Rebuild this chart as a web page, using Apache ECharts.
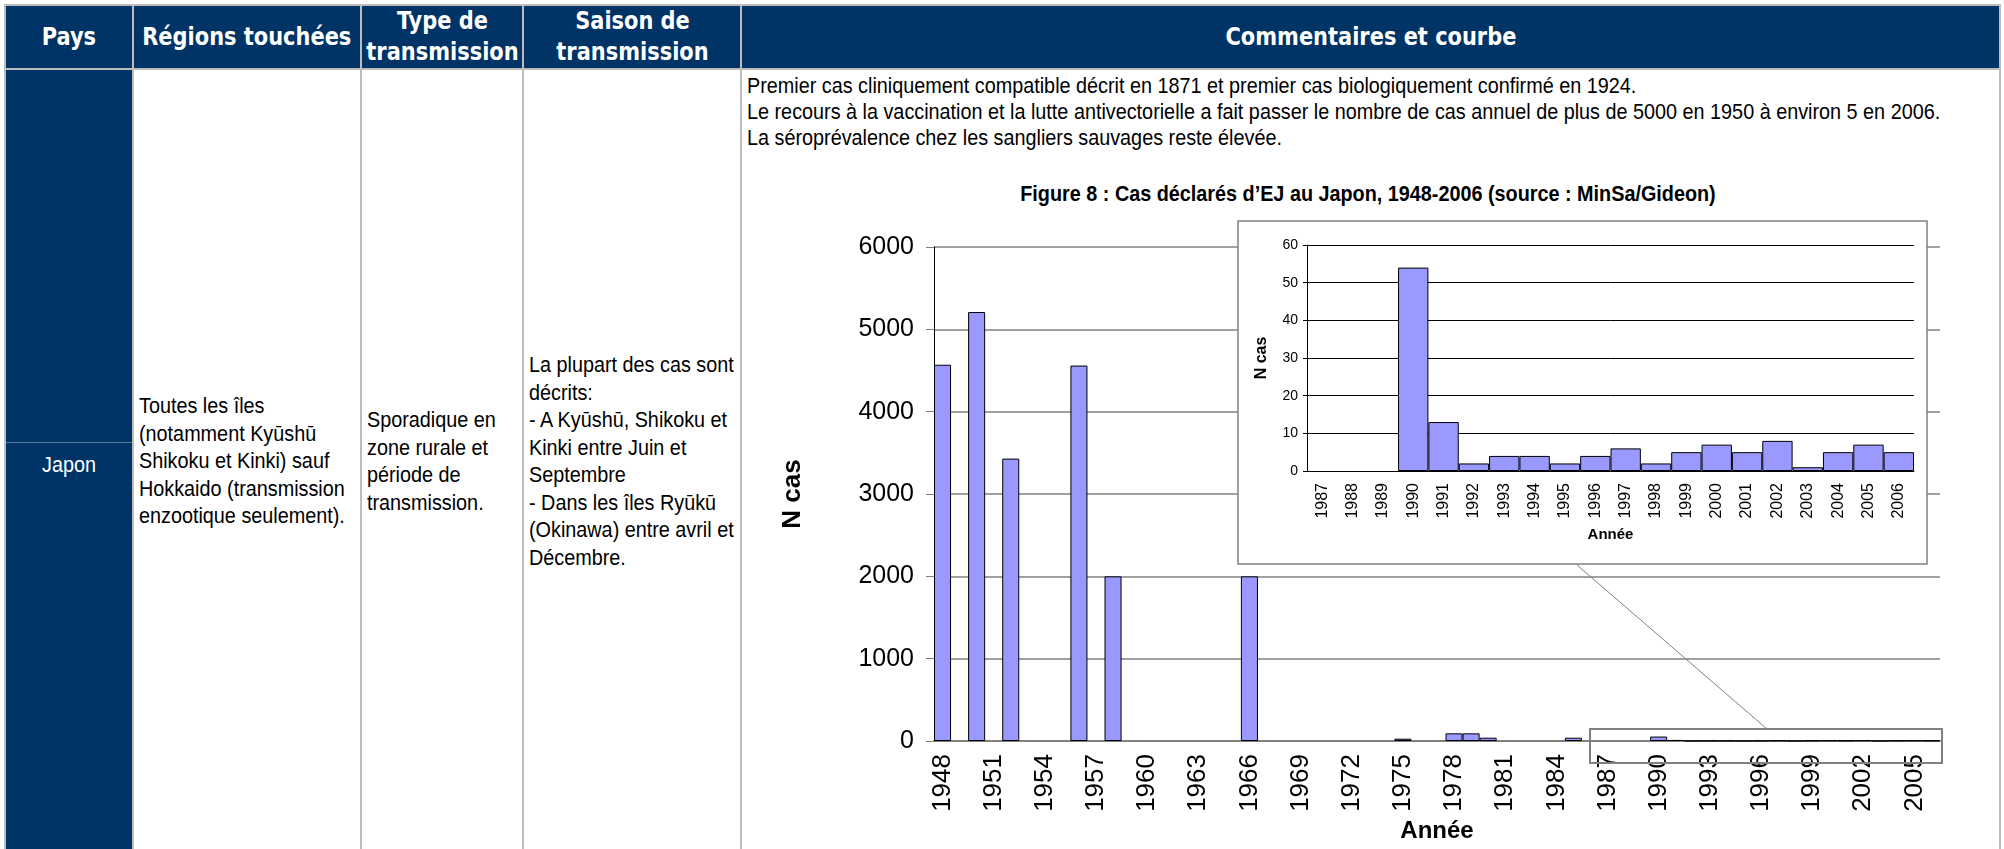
<!DOCTYPE html>
<html>
<head>
<meta charset="utf-8">
<script src="https://cdn.jsdelivr.net/npm/echarts@6/dist/echarts.min.js"></script>
<style>
  html, body { margin: 0; padding: 0; background: #fff; width: 2004px; height: 849px; overflow: hidden; }
  .tbl {
    position: absolute; left: 4px; top: 4px;
    display: grid;
    grid-template-columns: 126px 226px 160px 216px 1257px;
    grid-template-rows: 62px 782px;
    gap: 2px; padding: 2px;
    background: #bdbdbd;
  }
  .th {
    background: #003366; color: #fff;
    font-family: "DejaVu Sans Condensed", "DejaVu Sans", sans-serif;
    font-weight: bold; font-size: 24px; line-height: 31px;
    display: flex; align-items: center; justify-content: center; text-align: center;
  }
  .th span { display: inline-block; transform: scaleX(0.97); white-space: nowrap; }
  .td {
    background: #fff; color: #000;
    font-family: "Liberation Sans", Arial, sans-serif;
    font-size: 22px; line-height: 27.5px; white-space: nowrap;
    display: flex; align-items: center; padding: 0 5px;
  }
  /* police étroite simulée */
  .td span { display: inline-block; transform: scaleX(0.9); transform-origin: left center; }
  .pays { background: #003366; color: #fff; justify-content: center; position: relative; padding: 0; }
  .pays span { transform-origin: center center; margin-top: 8px; }
  .pays .sep { position: absolute; left: 0; right: 0; top: 372px; height: 1px; background: rgba(255,255,255,0.35); }
  .comm { align-items: flex-start; line-height: 26px; padding-top: 3px; }
  .fig-title {
    position: absolute; left: 1368px; top: 181px; white-space: nowrap;
    font-family: "Liberation Sans", Arial, sans-serif; font-weight: bold; font-size: 22px;
    transform: translateX(-50%) scaleX(0.9);
  }
  #chart { position: absolute; left: 0; top: 0; width: 2004px; height: 849px; pointer-events: none; }
</style>
</head>
<body>
<div class="tbl">
  <div class="th"><span>Pays</span></div>
  <div class="th"><span>Régions touchées</span></div>
  <div class="th"><span>Type de<br>transmission</span></div>
  <div class="th"><span>Saison de<br>transmission</span></div>
  <div class="th"><span>Commentaires et courbe</span></div>
  <div class="td pays"><div class="sep"></div><span>Japon</span></div>
  <div class="td"><span>Toutes les îles<br>(notamment Kyūshū<br>Shikoku et Kinki) sauf<br>Hokkaido (transmission<br>enzootique seulement).</span></div>
  <div class="td"><span>Sporadique en<br>zone rurale et<br>période de<br>transmission.</span></div>
  <div class="td"><span>La plupart des cas sont<br>décrits:<br>- A Kyūshū, Shikoku et<br>Kinki entre Juin et<br>Septembre<br>- Dans les îles Ryūkū<br>(Okinawa) entre avril et<br>Décembre.</span></div>
  <div class="td comm"><span>Premier cas cliniquement compatible décrit en 1871 et premier cas biologiquement confirmé en 1924.<br>Le recours à la vaccination et la lutte antivectorielle a fait passer le nombre de cas annuel de plus de 5000 en 1950 à environ 5 en 2006.<br>La séroprévalence chez les sangliers sauvages reste élevée.</span></div>
</div>
<div class="fig-title">Figure 8 : Cas déclarés d’EJ au Japon, 1948-2006 (source : MinSa/Gideon)</div>
<div id="chart"></div>
<script>
// données
const years = ['1948','1949','1950','1951','1952','1953','1954','1955','1956','1957',
  '1958','1959','1960','1961','1962','1963','1964','1965','1966','1967',
  '1968','1969','1970','1971','1972','1973','1974','1975','1976','1977',
  '1978','1979','1980','1981','1982','1983','1984','1985','1986','1987',
  '1988','1989','1990','1991','1992','1993','1994','1995','1996','1997',
  '1998','1999','2000','2001','2002','2003','2004','2005','2006'];
const cases = [4570, 0, 5210, 0, 3430, 0, 0, 0, 4560, 0,
  2000, 0, 0, 0, 0, 0, 0, 0, 2000, 0,
  0, 0, 0, 0, 0, 0, 0, 28, 0, 0,
  93, 93, 40, 0, 0, 0, 0, 40, 0, 0,
  0, 0, 54, 13, 2, 4, 4, 2, 4, 6,
  2, 5, 7, 5, 8, 1, 5, 7, 5];
// encadré 1987-2006
const insetYears = ['1987','1988','1989','1990','1991','1992','1993','1994','1995','1996',
  '1997','1998','1999','2000','2001','2002','2003','2004','2005','2006'];
const insetCases = [0, 0, 0, 54, 13, 2, 4, 4, 2, 4, 6, 2, 5, 7, 5, 8, 1, 5, 7, 5];

const FONT = 'Liberation Sans, Arial, sans-serif';
const barStyle = { color: '#9999ff', borderColor: '#000', borderWidth: 1 };
const plain = v => String(v); // pas de séparateur de milliers

const chart = echarts.init(document.getElementById('chart'));
chart.setOption({
  animation: false,
  grid: [
    { left: 934, right: 64, top: 247, bottom: 108 },
    { left: 1307, right: 90, top: 245, bottom: 378 }
  ],
  xAxis: [{
    gridIndex: 0, type: 'category', data: years,
    axisLine: { lineStyle: { color: '#808080', width: 2 } },
    axisTick: { interval: 0, length: 8, lineStyle: { color: '#000' } },
    axisLabel: { interval: 2, rotate: 90, fontSize: 26, color: '#000', fontFamily: FONT, margin: 13 },
    name: 'Année', nameLocation: 'middle', nameGap: 68,
    nameTextStyle: { fontFamily: FONT, fontWeight: 'bold', fontSize: 24, color: '#000' }
  }, {
    gridIndex: 1, type: 'category', data: insetYears, z: 6,
    axisLine: { lineStyle: { color: '#000', width: 1 } },
    axisTick: { interval: 0, length: 5, lineStyle: { color: '#000' } },
    axisLabel: { interval: 0, rotate: 90, fontSize: 16, color: '#000', fontFamily: FONT, margin: 12 },
    name: 'Année', nameLocation: 'middle', nameGap: 56,
    nameTextStyle: { fontFamily: FONT, fontWeight: 'bold', fontSize: 15, color: '#000' }
  }],
  yAxis: [{
    gridIndex: 0, type: 'value', min: 0, max: 6000, interval: 1000,
    axisLine: { show: true, lineStyle: { color: '#000', width: 1 } },
    axisTick: { show: true, length: 8, lineStyle: { color: '#808080' } },
    splitLine: { lineStyle: { color: '#808080', width: 1.5 } },
    axisLabel: { fontSize: 25, color: '#000', fontFamily: FONT, margin: 20, formatter: plain },
    name: 'N cas', nameLocation: 'middle', nameGap: 128, nameRotate: 90,
    nameTextStyle: { fontFamily: FONT, fontWeight: 'bold', fontSize: 26, color: '#000' }
  }, {
    gridIndex: 1, type: 'value', min: 0, max: 60, interval: 10, z: 6,
    axisLine: { show: true, lineStyle: { color: '#000', width: 1 } },
    axisTick: { show: true, length: 4, lineStyle: { color: '#000' } },
    splitLine: { lineStyle: { color: '#000', width: 1 } },
    axisLabel: { fontSize: 14, color: '#000', fontFamily: FONT, margin: 9, formatter: plain },
    name: 'N cas', nameLocation: 'middle', nameGap: 37, nameRotate: 90,
    nameTextStyle: { fontFamily: FONT, fontWeight: 'bold', fontSize: 16, color: '#000' }
  }],
  graphic: [
    { type: 'rect', z: 5, shape: { x: 1238, y: 221, width: 689, height: 343 },
      style: { fill: '#fff', stroke: '#808080', lineWidth: 1.5 } },
    { type: 'line', z: 5, shape: { x1: 1577, y1: 565, x2: 1767, y2: 729 },
      style: { stroke: '#808080', lineWidth: 1 } },
    { type: 'rect', z: 6, shape: { x: 1590, y: 729, width: 352, height: 34 },
      style: { fill: 'none', stroke: '#808080', lineWidth: 2 } }
  ],
  series: [{
    type: 'bar', xAxisIndex: 0, yAxisIndex: 0, z: 2,
    data: cases.map(v => (v === 0 ? '-' : v)),
    barCategoryGap: '0%', itemStyle: barStyle
  }, {
    type: 'bar', xAxisIndex: 1, yAxisIndex: 1, z: 10,
    data: insetCases.map(v => (v === 0 ? '-' : v)),
    barCategoryGap: '0%', itemStyle: barStyle
  }]
});
</script>
</body>
</html>
